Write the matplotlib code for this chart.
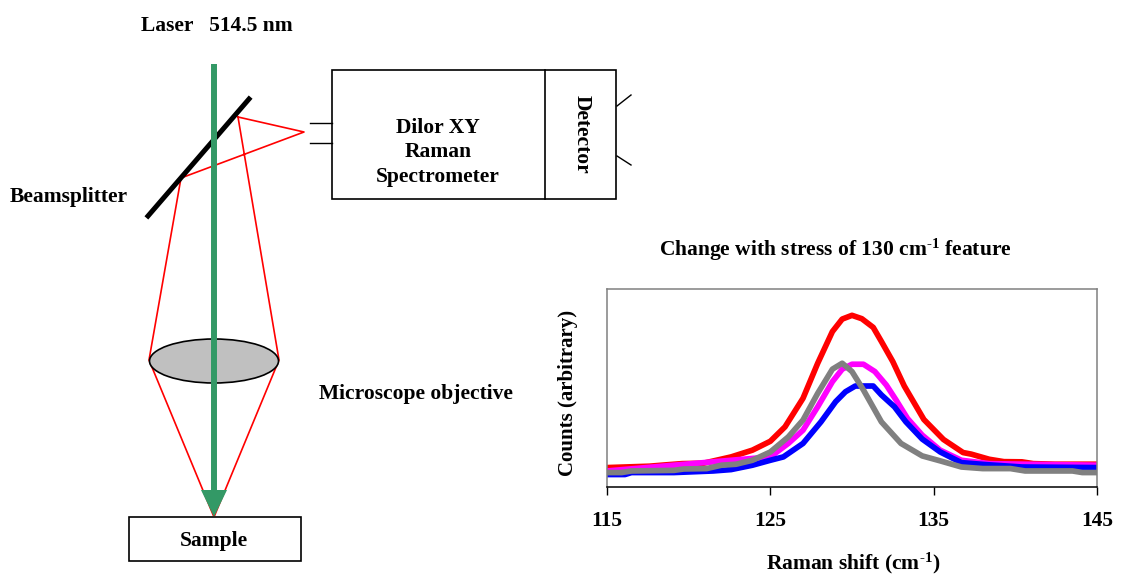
import matplotlib
matplotlib.use('Agg')
import matplotlib.pyplot as plt
from matplotlib.patches import Ellipse, Polygon, Rectangle

plt.rcParams['font.family'] = ['Liberation Serif', 'DejaVu Serif']
plt.rcParams['font.weight'] = 'bold'
plt.rcParams['mathtext.fontset'] = 'custom'
plt.rcParams['mathtext.rm'] = 'Liberation Serif:bold'
plt.rcParams['mathtext.default'] = 'rm'

# spectra
red_x = [115, 117.6, 118.5, 119.6, 120.9, 122.6, 123.9, 125, 125.9, 127, 127.9, 128.8, 129.4, 130, 130.6,
         131.3, 131.8, 132.5, 133.2, 134.4, 135.6, 136.8, 137.3, 138.4, 139.3, 140.4, 141.1, 142.4, 145]
red_y = [9.8, 10.5, 11.1, 11.8, 12, 15.2, 18.6, 23.1, 30.4, 44.8, 62.5, 78.5, 84.8, 86.7, 85,
         80.6, 73.5, 63.3, 51, 34.1, 24, 17.4, 16.6, 14, 12.8, 12.7, 11.8, 11.5, 11.5]
magenta_x = [115, 125, 126.1, 127, 127.9, 128.8, 129.4, 130, 130.7, 131.4, 132.1, 132.7, 133.4, 134.3,
             135.4, 136.7, 138.4, 140.6, 145]
magenta_y = [8.1, 15.2, 22, 28.7, 40.5, 53.2, 59.5, 62, 62, 58.3, 51.5, 43.9, 34.6, 26.2,
             18.6, 13.5, 11.8, 11.5, 11]
blue_x = [115, 116.1, 116.5, 119.1, 121.5, 122.6, 123.9, 125, 125.8, 127, 128.1, 129, 129.6, 130.2, 131.3,
          131.8, 132.6, 133.3, 134.3, 135.4, 136.7, 138.2, 140.4, 145]
blue_y = [6.3, 6.3, 7.3, 7.3, 8.1, 8.8, 11, 13.5, 15.2, 22, 32.9, 43.1, 48.1, 51, 51,
          46.5, 40.5, 32.9, 24.2, 17.7, 12.3, 11.3, 10.1, 9.8]
gray_x = [115, 115.9, 116.5, 119.1, 119.7, 121.1, 122, 122.9, 123.9, 125, 126.1, 127, 127.9, 128.8, 129.4,
          130, 130.7, 131.8, 133, 134.3, 135.4, 136.7, 138, 139.7, 140.6, 143.5, 144.1, 145]
gray_y = [7.3, 7.3, 8.1, 8.4, 9.1, 9.3, 11, 11.5, 13.5, 17.7, 25.3, 33.8, 47.3, 59.5, 62.5,
          58.3, 49, 32.9, 22, 15.7, 13.2, 10.1, 9.3, 9.3, 8.1, 8.1, 7.3, 7.3]
x_ticks = [115, 125, 135, 145]

# diagram geometry, in image pixels
red_path = [(238, 117), (304, 132), (181, 178), (149, 360), (214, 517), (279, 360), (238, 117)]
splitter = [(148, 216), (249, 99)]

fig = plt.figure(figsize=(11.21, 5.76), dpi=100)

# schematic on the left, full figure axes in pixel coords
d = fig.add_axes([0, 0, 1, 1])
d.set_xlim(0, 1121)
d.set_ylim(576, 0)
d.axis('off')

d.plot([p[0] for p in red_path], [p[1] for p in red_path], color='red', lw=1.2, zorder=1)
d.add_patch(Ellipse((214, 361), 129, 44, fc='#c0c0c0', ec='black', lw=1.2, zorder=2))
d.plot([p[0] for p in splitter], [p[1] for p in splitter], color='black', lw=3.6, zorder=2)
d.plot([214, 214], [64, 492], color='#339966', lw=4.3, solid_capstyle='butt', zorder=3)
d.add_patch(Polygon([(201, 490), (227, 490), (214, 517)], fc='#339966', ec='none', zorder=3))

d.add_patch(Rectangle((129, 517), 172, 44, fc='white', ec='black', lw=1.2, zorder=2))
d.add_patch(Rectangle((332, 70), 284, 129, fc='white', ec='black', lw=1.2))
d.plot([545, 545], [70, 199], color='black', lw=1.2)
d.plot([310, 332], [123, 123], color='black', lw=1)
d.plot([310, 332], [143, 143], color='black', lw=1)
d.plot([617, 631], [106, 95], color='black', lw=1)
d.plot([617, 631], [156, 165], color='black', lw=1)

fs = 15.5
d.text(217, 26, 'Laser   514.5 nm', fontsize=fs, ha='center', va='center')
d.text(10, 197, 'Beamsplitter', fontsize=fs, ha='left', va='center')
d.text(319, 394, 'Microscope objective', fontsize=fs, ha='left', va='center')
d.text(214, 541, 'Sample', fontsize=fs, ha='center', va='center', zorder=4)
d.text(438, 128, 'Dilor XY', fontsize=fs, ha='center', va='center')
d.text(438, 152, 'Raman', fontsize=fs, ha='center', va='center')
d.text(438, 177, 'Spectrometer', fontsize=fs, ha='center', va='center')
d.text(582, 134, 'Detector', fontsize=fs, ha='center', va='center', rotation=-90)

# spectrum chart
ax = fig.add_axes([607 / 1121, (576 - 487) / 576, 490 / 1121, 198 / 576])
ax.plot(red_x, red_y, color='red', lw=4.1, solid_capstyle='butt', clip_on=False)
ax.plot(magenta_x, magenta_y, color='magenta', lw=4.1, solid_capstyle='butt', clip_on=False)
ax.plot(blue_x, blue_y, color='blue', lw=4.1, solid_capstyle='butt', clip_on=False)
ax.plot(gray_x, gray_y, color='#808080', lw=4.1, solid_capstyle='butt', clip_on=False)
ax.set_xlim(115, 145)
ax.set_ylim(0, 100)
ax.set_yticks([])
ax.set_xticks(x_ticks)
ax.tick_params(axis='x', length=6, width=1, pad=11, labelsize=fs)
for side in ['top', 'left', 'right']:
    ax.spines[side].set_color('#808080')
    ax.spines[side].set_linewidth(1.1)
ax.spines['bottom'].set_linewidth(1.1)

d.text(835, 250, r'Change with stress of 130 cm$^{\text{-}1}$ feature', fontsize=fs, ha='center', va='center')
d.text(568, 393, 'Counts (arbitrary)', fontsize=15, ha='center', va='center', rotation=90)
d.text(853, 563, r'Raman shift (cm$^{\text{-}1}$)', fontsize=fs, ha='center', va='center')

fig.savefig('out.png', dpi=100)
